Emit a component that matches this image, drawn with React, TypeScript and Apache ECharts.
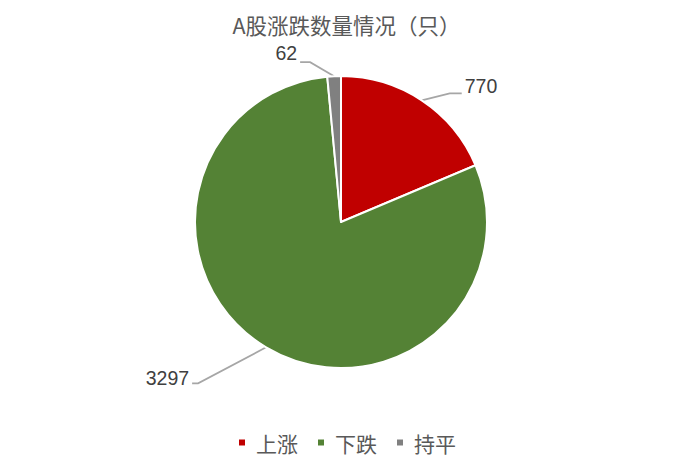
import { useEffect, useRef } from "react";
import * as echarts from "echarts";

const categories = ["上涨", "下跌", "持平"];
const counts = [770, 3297, 62];
const colors = ["#C00000", "#548235", "#808080"];
const chartTitle = "A股涨跌数量情况（只）";

// leader line shape per label: elbow offset from the slice edge, tail length, text shift
const leaderOffsets = [
  { dx: 28, dy: -7, tail: 12, textDy: -7 },
  { dx: -68, dy: 36, tail: -6, textDy: -5 },
  { dx: -24, dy: -14, tail: -10, textDy: -9 }
];

export default function App() {
  const chartRef = useRef<HTMLDivElement>(null);

  useEffect(() => {
    document.body.style.margin = "0";
    if (!chartRef.current) return;
    const chart = echarts.init(chartRef.current, undefined, { renderer: "svg" });

    const option: echarts.EChartsOption = {
      animation: false,
      title: {
        text: chartTitle,
        left: "center",
        top: 9,
        textStyle: {
          fontFamily: "Noto Sans CJK SC",
          fontSize: 21.5,
          fontWeight: "normal",
          color: "#595959"
        }
      },
      legend: {
        top: 427,
        left: "center",
        icon: "rect",
        itemWidth: 8,
        itemHeight: 8,
        itemGap: 18,
        textStyle: {
          fontFamily: "Noto Sans CJK SC",
          fontSize: 21,
          color: "#595959",
          padding: [0, 0, 0, 5]
        },
        data: categories
      },
      series: [
        {
          name: chartTitle,
          type: "pie",
          center: [341, 222],
          radius: 146,
          startAngle: 90,
          clockwise: true,
          itemStyle: {
            borderColor: "#ffffff",
            borderWidth: 2
          },
          label: {
            show: true,
            position: "outside",
            formatter: "{c}",
            fontFamily: "Liberation Sans",
            fontSize: 19.5,
            color: "#404040"
          },
          labelLine: {
            show: true,
            length: 10,
            length2: 10,
            lineStyle: { color: "#A6A6A6", width: 1.75 }
          },
          labelLayout: (params: any) => {
            const off = leaderOffsets[params.dataIndex];
            const pts = params.labelLinePoints;
            if (!off || !pts) return {};
            const p0 = pts[0];
            const elbow = [p0[0] + off.dx, p0[1] + off.dy];
            const end = [elbow[0] + off.tail, elbow[1]];
            const right = off.tail > 0;
            return {
              x: end[0] + (right ? 3 : -3),
              y: end[1] + off.textDy,
              align: right ? "left" : "right",
              verticalAlign: "middle",
              labelLinePoints: [p0, elbow, end]
            };
          },
          emphasis: { disabled: true },
          data: categories.map((name, i) => ({
            name,
            value: counts[i],
            itemStyle: { color: colors[i] }
          }))
        }
      ]
    };

    chart.setOption(option);
    return () => {
      chart.dispose();
    };
  }, []);

  return <div ref={chartRef} style={{ width: "693px", height: "470px" }} />;
}
